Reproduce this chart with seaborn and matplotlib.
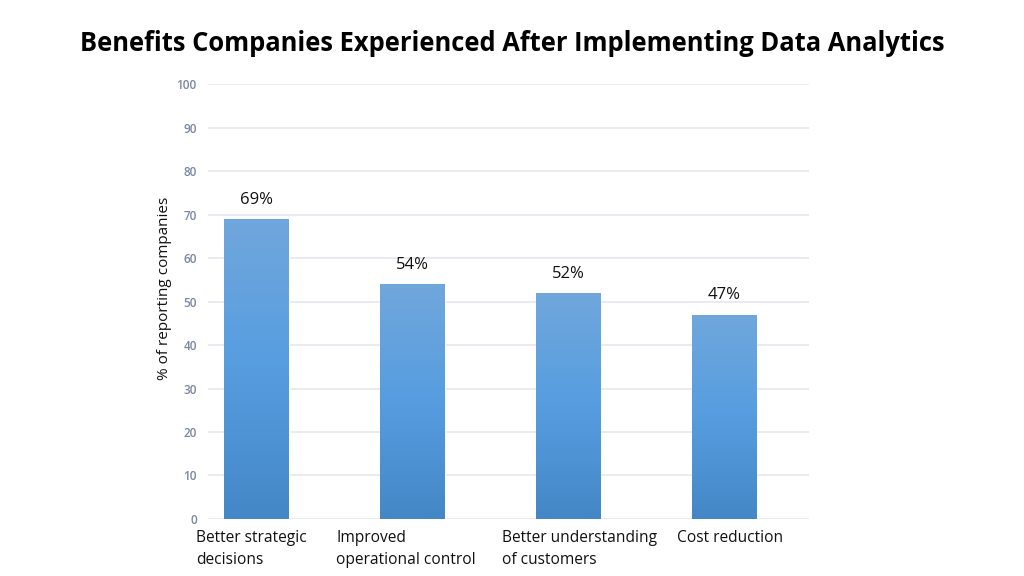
import numpy as np
import pandas as pd
import matplotlib
matplotlib.use("Agg")
import matplotlib.pyplot as plt
import matplotlib.transforms as mtransforms
from matplotlib.colors import LinearSegmentedColormap
import seaborn as sns

# chart data
benefits = [
    "Better strategic\ndecisions",
    "Improved\noperational control",
    "Better understanding\nof customers",
    "Cost reduction",
]
percent = [69, 54, 52, 47]

data = pd.DataFrame({"benefit": benefits, "percent": percent})

sns.set_style("white")
plt.rcParams["font.family"] = ["Open Sans", "DejaVu Sans"]

fig = plt.figure(figsize=(10.24, 5.76), dpi=100)
ax = fig.add_axes([0.203, 0.099, 0.587, 0.755])

sns.barplot(data=data, x="benefit", y="percent", color="#5a9ddc",
            width=0.416, ax=ax, zorder=3)

# vertical gradient on each bar, like the original
grad = LinearSegmentedColormap.from_list("bar", ["#4487c6", "#569de0", "#70a7dc"])
for patch in ax.patches:
    x0, y0 = patch.get_x(), patch.get_y()
    w, h = patch.get_width(), patch.get_height()
    img = ax.imshow(np.linspace(0, 1, 256).reshape(-1, 1), cmap=grad,
                    extent=[x0, x0 + w, y0, y0 + h], origin="lower",
                    aspect="auto", zorder=4, interpolation="bilinear")
    img.set_clip_path(patch)
    ax.text(x0 + w / 2, y0 + h + 2.6, f"{h:.0f}%", ha="center", va="bottom",
            fontsize=12, color="#111111")

ax.set_xlim(-0.31, 3.545)
ax.set_ylim(0, 100)
ax.set_yticks(range(0, 101, 10))
ax.yaxis.grid(True, color="#e6e8ef", linewidth=1.2, zorder=0)
ax.set_axisbelow(True)
sns.despine(ax=ax, left=True, bottom=True)

ax.tick_params(axis="y", length=0, labelsize=8.5, labelcolor="#7a879f", pad=8)
for lab in ax.get_yticklabels():
    lab.set_fontweight("semibold")
ax.tick_params(axis="x", length=0, labelsize=11.2, labelcolor="#111111", pad=8)
# the original labels sit a little off-centre under their bars
nudges = [-5, -6, 12, 6]
for lab, dx in zip(ax.get_xticklabels(), nudges):
    lab.set_multialignment("left")
    lab.set_linespacing(1.5)
    lab.set_transform(lab.get_transform() +
                      mtransforms.ScaledTranslation(dx / 100, 0, fig.dpi_scale_trans))

ax.set_xlabel("")
ax.set_ylabel("% of reporting companies", fontsize=11, color="#111111")
ax.yaxis.set_label_coords(-0.06, 0.531)

fig.text(0.5, 0.925, "Benefits Companies Experienced After Implementing Data Analytics",
         ha="center", va="center", fontsize=18.4, fontweight="bold", color="#000000")

fig.savefig("out.png", dpi=100, facecolor="white")
